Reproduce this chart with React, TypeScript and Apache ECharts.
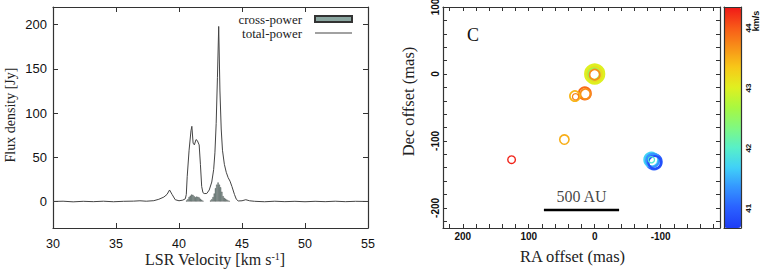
import React, { useEffect, useRef } from "react";
import * as echarts from "echarts";

// ---------- Left panel: spectra ----------
const tpVelocity = [30, 30.8, 31.6, 32.4, 33.2, 34, 34.8, 35.6, 36.4, 36.9, 37.4, 38, 38.4, 38.8, 39.05, 39.25, 39.45, 39.7, 40, 40.3, 40.5, 40.58, 40.65, 40.8, 40.95, 41.02, 41.12, 41.22, 41.35, 41.45, 41.6, 41.7, 41.8, 41.9, 42, 42.2, 42.4, 42.6, 42.75, 42.85, 42.95, 43.05, 43.15, 43.25, 43.35, 43.45, 43.6, 43.75, 43.9, 44.05, 44.2, 44.4, 44.55, 44.7, 45, 45.3, 45.6, 46, 46.8, 47.6, 48.4, 49.2, 50, 50.8, 51.6, 52.4, 53.2, 54, 55];
const tpFlux = [0, 0.3, -0.4, 0.2, -0.2, 0.3, -0.3, 0.2, 0.4, 0.8, 0.3, 0.9, 2.5, 5, 8, 13, 8, 2, 0.8, 1.5, 3, 8, 28, 58, 80, 85, 66, 64, 70, 69, 64, 42, 17, 10, 9, 9, 13, 22, 36, 55, 88, 140, 198, 125, 82, 58, 42, 33, 27, 23, 17, 8, 2.5, 0.6, 0.8, 2, 0.8, 0.2, -0.3, 0.3, -0.2, 0.2, -0.3, 0.2, -0.2, 0.3, -0.2, 0.2, 0];

const cpVelocity = [40.6, 40.7, 40.8, 40.9, 41.0, 41.1, 41.2, 41.3, 41.4, 41.5, 41.6, 41.7, 41.8, 41.9, 42.5, 42.6, 42.7, 42.8, 42.9, 43.0, 43.1, 43.2, 43.3, 43.4, 43.5, 43.6, 43.7, 43.8, 43.9, 44.0];
const cpFlux = [1, 2.5, 5, 6.5, 7.8, 7.5, 6, 4.8, 5.5, 5.2, 4.5, 3, 1.8, 0.8, 1, 2.5, 5, 9, 15, 19, 21.5, 19, 16, 11, 6, 4, 3, 2, 1, 0.5];

const velTicks = [30, 35, 40, 45, 50, 55];
const fluxTicks = [0, 50, 100, 150, 200];

// ---------- Right panel: maser spots ----------
const spotRA = [0, 0, 1, 0, 15, 14, 30, 29, 46, 126, -90, -86, -88, -91, -86];
const spotDec = [0, 0, 0, -1, -29, -30, -33, -34, -98, -128, -131, -128, -129, -132, -128];
const spotVel = [43.0, 43.15, 42.6, 43.7, 43.9, 43.7, 43.45, 43.75, 43.5, 44.3, 41.0, 41.7, 41.35, 40.85, 41.95];
const spotFlux = [67, 40, 27, 22, 30, 21, 21, 8, 18, 12, 46, 40, 35, 33, 8];

const raLabels = [-100, 0, 100, 200];
const decLabels = [-200, -100, 0, 100];
const colorbarLabels = [41, 42, 43, 44];
const colorbarRange = [40.67, 44.35];
const scaleBarRA = [77, -37];
const scaleBarDec = -203;
const scaleBarText = "500 AU";

const palette = ["#1e3cf5", "#2a60ff", "#3494ff", "#40d0f8", "#58f0c8", "#80f880", "#a8f840", "#e0f020", "#f8c818", "#f89018", "#f85818", "#f01818"];

const SERIF = '"Liberation Serif", "Times New Roman", serif';
const SANS = '"Liberation Sans", Arial, sans-serif';

function multiples(step: number, lo: number, hi: number) {
  const out: number[] = [];
  for (let v = Math.ceil(lo / step) * step; v <= hi + 1e-9; v += step) out.push(Math.round(v * 1000) / 1000);
  return out;
}

export default function App() {
  const ref = useRef<HTMLDivElement>(null);
  useEffect(() => {
    document.body.style.margin = "0";
    const chart = echarts.init(ref.current!, null, { renderer: "svg" });
    const frameLine = { show: true, onZero: false, lineStyle: { color: "#333", width: 1.2 } };
    const raMinor = multiples(20, -190, 230);
    const decMinor = multiples(20, -230, 100);

    const leftTick = { show: true, inside: true, length: 5, lineStyle: { color: "#333", width: 1 } };
    const rightTickX = { show: true, inside: true, length: 4, customValues: raMinor, lineStyle: { color: "#333", width: 1 } };
    const rightTickY = { show: true, inside: true, length: 4, customValues: decMinor, lineStyle: { color: "#333", width: 1 } };
    const smallLabel = { fontFamily: SANS, fontSize: 10, fontWeight: "bold", color: "#111" };

    const option: any = {
      animation: false,
      backgroundColor: "#fff",
      grid: [
        { left: 53, top: 7, right: 395, bottom: 41, outerBoundsMode: "none", containLabel: false },
        { left: 443, top: 7, right: 43, bottom: 41, outerBoundsMode: "none", containLabel: false },
        { left: 724, top: 7, right: 22, bottom: 41, outerBoundsMode: "none", containLabel: false },
      ],
      legend: {
        data: [
          { name: "cross-power", icon: "rect" },
          { name: "total-power", icon: "path://M0,0L100,0L100,3L0,3Z" },
        ],
        orient: "vertical",
        align: "right",
        right: 410,
        top: 12,
        padding: 0,
        itemGap: 0,
        itemWidth: 37,
        itemHeight: 6,
        textStyle: { fontFamily: SERIF, fontSize: 13, color: "#222", lineHeight: 14, padding: [0, 8, 0, 0] },
      },
      xAxis: [
        {
          gridIndex: 0, type: "value", min: 30, max: 55, interval: 5, position: "bottom",
          axisLine: frameLine, axisTick: leftTick, splitLine: { show: false },
          axisLabel: { fontFamily: SANS, fontSize: 12.5, color: "#111", margin: 9, customValues: velTicks },
          name: "LSR Velocity [km s{sup|-1}]", nameLocation: "middle", nameGap: 23, nameMoveOverlap: false,
          nameTextStyle: {
            fontFamily: SERIF, fontSize: 16, color: "#222", padding: [0, 0, 0, 9],
            rich: { sup: { fontFamily: SERIF, fontSize: 10, verticalAlign: "top", lineHeight: 10, color: "#222" } },
          },
        },
        {
          gridIndex: 0, type: "value", min: 30, max: 55, interval: 5, position: "top",
          axisLine: frameLine, axisTick: leftTick, axisLabel: { show: false }, splitLine: { show: false },
        },
        {
          gridIndex: 1, type: "value", min: -190, max: 230, inverse: true, position: "bottom",
          axisLine: frameLine, axisTick: rightTickX, splitLine: { show: false },
          axisLabel: { ...smallLabel, margin: 3, customValues: raLabels },
          name: "RA offset (mas)", nameLocation: "middle", nameGap: 20, nameMoveOverlap: false,
          nameTextStyle: { fontFamily: SERIF, fontSize: 16.5, color: "#222", padding: [0, 18, 0, 0] },
        },
        {
          gridIndex: 1, type: "value", min: -190, max: 230, inverse: true, position: "top",
          axisLine: frameLine, axisTick: rightTickX, axisLabel: { show: false }, splitLine: { show: false },
        },
        {
          gridIndex: 2, type: "value", min: 0, max: 1, position: "bottom",
          axisLine: frameLine, axisTick: { show: false }, axisLabel: { show: false }, splitLine: { show: false }, z: 5,
        },
        {
          gridIndex: 2, type: "value", min: 0, max: 1, position: "top",
          axisLine: frameLine, axisTick: { show: false }, axisLabel: { show: false }, splitLine: { show: false }, z: 5,
        },
      ],
      yAxis: [
        {
          gridIndex: 0, type: "value", min: -30, max: 220, position: "left",
          axisLine: frameLine, axisTick: { ...leftTick, customValues: fluxTicks }, splitLine: { show: false },
          axisLabel: { fontFamily: SANS, fontSize: 13, color: "#111", margin: 6, customValues: fluxTicks },
          name: "Flux density [Jy]", nameLocation: "middle", nameGap: 36, nameMoveOverlap: false,
          nameTextStyle: { fontFamily: SERIF, fontSize: 14, color: "#222", padding: [0, 0, 0, 5] },
        },
        {
          gridIndex: 0, type: "value", min: -30, max: 220, position: "right",
          axisLine: frameLine, axisTick: { ...leftTick, customValues: fluxTicks }, axisLabel: { show: false }, splitLine: { show: false },
        },
        {
          gridIndex: 1, type: "value", min: -230, max: 100, position: "left",
          axisLine: frameLine, axisTick: rightTickY, splitLine: { show: false },
          axisLabel: { ...smallLabel, rotate: 90, margin: 3, customValues: decLabels },
          name: "Dec offset (mas)", nameLocation: "middle", nameGap: 26, nameMoveOverlap: false,
          nameTextStyle: { fontFamily: SERIF, fontSize: 16.5, color: "#222", padding: [0, 0, 0, 32] },
        },
        {
          gridIndex: 1, type: "value", min: -230, max: 100, position: "right",
          axisLine: frameLine, axisTick: rightTickY, axisLabel: { show: false }, splitLine: { show: false },
        },
        {
          gridIndex: 2, type: "value", min: colorbarRange[0], max: colorbarRange[1], position: "left",
          axisLine: frameLine, axisTick: { show: false }, axisLabel: { show: false }, splitLine: { show: false }, z: 5,
        },
        {
          gridIndex: 2, type: "value", min: colorbarRange[0], max: colorbarRange[1], position: "right",
          axisLine: frameLine, axisTick: { show: false }, splitLine: { show: false }, z: 5,
          axisLabel: { fontFamily: SANS, fontSize: 8, fontWeight: "bold", color: "#111", rotate: 90, margin: 3, customValues: colorbarLabels },
        },
      ],
      visualMap: {
        type: "continuous",
        seriesIndex: 2,
        dimension: 2,
        min: colorbarRange[0],
        max: colorbarRange[1],
        inRange: { color: palette },
        calculable: false,
        hoverLink: false,
        show: true,
        left: 724,
        top: 7,
        itemWidth: 17,
        itemHeight: 221,
        padding: 0,
        text: null,
        z: 1,
      },
      graphic: [
        { type: "text", left: 467, top: 26, style: { text: "C", font: `18px ${SERIF}`, fill: "#111" } },
        {
          type: "text", x: 756, y: 21, rotation: Math.PI / 2,
          style: { text: "km/s", font: `bold 9px ${SANS}`, fill: "#111", align: "center", verticalAlign: "middle" },
        },
      ],
      series: [
        {
          type: "line", name: "total-power", xAxisIndex: 0, yAxisIndex: 0,
          data: tpVelocity.map((v, i) => [v, tpFlux[i]]),
          symbol: "none", showSymbol: false, lineStyle: { color: "#444", width: 1 }, itemStyle: { color: "#444" }, z: 3,
        },
        {
          type: "bar", name: "cross-power", xAxisIndex: 0, yAxisIndex: 0,
          data: cpVelocity.map((v, i) => [v, cpFlux[i]]),
          barWidth: 1.26,
          itemStyle: { color: "#8aa6a0", borderColor: "#333", borderWidth: 0.35 },
          z: 2,
        },
        {
          type: "custom", name: "spots", xAxisIndex: 2, yAxisIndex: 2,
          data: spotRA.map((ra, i) => [ra, spotDec[i], spotVel[i], spotFlux[i]]),
          encode: { x: 0, y: 1 },
          renderItem: (params: any, api: any) => {
            const c = api.coord([api.value(0), api.value(1)]);
            const flux = api.value(3);
            const r = 1.1 * Math.sqrt(flux);
            return {
              type: "circle",
              shape: { cx: c[0], cy: c[1], r },
              style: { fill: "none", stroke: api.visual("color"), lineWidth: 1 + flux / 30 },
            };
          },
        },
        {
          type: "line", name: "scalebar", xAxisIndex: 2, yAxisIndex: 2,
          data: [[scaleBarRA[0], scaleBarDec], [scaleBarRA[1], scaleBarDec]],
          symbol: "none", lineStyle: { color: "#000", width: 2.5 }, silent: true,
        },
        {
          type: "scatter", name: "scalebar-label", xAxisIndex: 2, yAxisIndex: 2,
          data: [[(scaleBarRA[0] + scaleBarRA[1]) / 2, scaleBarDec]],
          symbolSize: 0,
          label: { show: true, position: "top", distance: 5, formatter: scaleBarText, fontFamily: SERIF, fontSize: 16, color: "#111" },
          silent: true,
        },
      ],
    };
    chart.setOption(option);
    return () => chart.dispose();
  }, []);
  return <div ref={ref} style={{ width: 763, height: 269 }} />;
}
